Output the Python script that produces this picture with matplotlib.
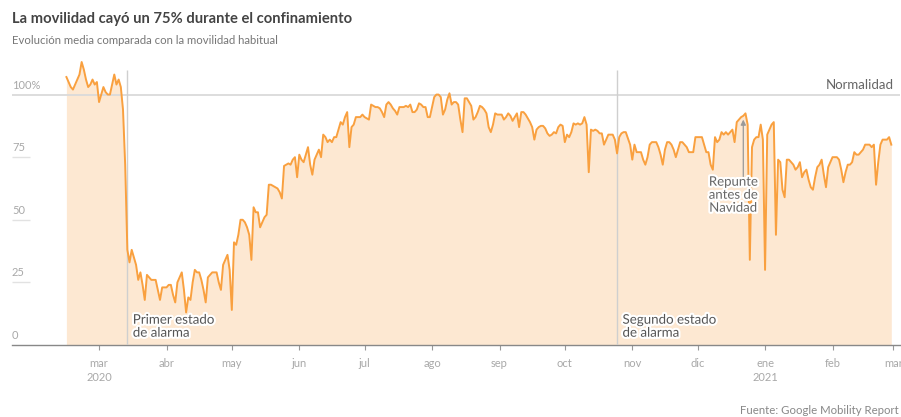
import matplotlib
matplotlib.use('Agg')
import matplotlib.pyplot as plt
import matplotlib.patheffects as pe
import numpy as np
import pandas as pd

plt.rcParams['font.family'] = ['Lato', 'DejaVu Sans']

# Movilidad media diaria (% sobre la habitual), mes a mes
feb_2020 = [107, 105, 103, 102, 104, 106, 108, 113, 110, 106, 103, 104, 106, 104, 105]  # desde el 15
mar_2020 = [97, 100, 103, 101, 100, 100, 104, 108, 104, 106, 103, 94, 72, 38, 33, 38, 35, 32, 26, 29,
            24, 18, 28, 27, 26, 26, 26, 22, 18, 23, 23]
abr_2020 = [23, 24, 24, 20, 17, 25, 27, 29, 22, 13, 19, 18, 25, 30, 29, 29, 26, 22, 17, 27,
            28, 29, 29, 29, 25, 22, 32, 34, 36, 30]
may_2020 = [14, 41, 40, 44, 50, 50, 49, 47, 44, 34, 55, 53, 53, 47, 49, 51, 52, 64, 64, 63.5,
            63, 62.5, 61, 58.5, 71.5, 72, 72.5, 72, 74, 75, 67]
jun_2020 = [76, 74, 73, 76, 79, 72, 68, 74, 76, 78, 75, 84, 83, 81, 82, 81, 83, 83, 86, 89,
            88, 91, 93, 79, 87, 88, 91, 91, 91, 92]
jul_2020 = [91, 90.5, 90, 96, 95.5, 95, 95, 94.5, 93, 91, 96, 97, 96, 94.5, 93.5, 92, 95, 95, 95, 95.5,
            95, 96, 93, 93, 94, 96.5, 96, 95, 95, 91, 91]
ago_2020 = [95, 99, 100, 100, 99, 92, 94, 98, 100.5, 96, 97, 97, 96, 90, 85, 98.5, 98.5, 97, 95.5, 90,
            91, 93, 95.5, 95, 94, 92.5, 87, 85, 88, 92.5, 92]
sep_2020 = [92, 92, 90, 91, 92.5, 91.5, 89.5, 91, 92.5, 87, 93, 93, 92, 90.5, 89, 87, 82, 86, 87, 87.5,
            87.5, 86.5, 84.5, 83.5, 84, 85, 84.5, 87, 88, 87.5]
oct_2020 = [81, 84, 83, 85, 88.5, 88, 88.5, 88, 88.5, 91, 88, 69, 86, 85.5, 86, 85.5, 84.5, 84.5, 80, 82,
            84, 84, 84, 82, 76.5, 83, 84.5, 85, 85, 82.5, 80]
nov_2020 = [74, 80, 77, 77, 77, 74, 72, 75, 80, 81, 81, 81, 79, 76, 72, 78, 81, 81, 80, 78,
            75, 78, 81, 81, 80, 79, 77, 77, 77, 83]
dic_2020 = [83, 83, 83, 80, 77, 77, 72, 70, 83, 81, 82, 85, 84, 85, 84, 85, 86, 81, 89, 90,
            91, 91.5, 92.5, 88, 34, 79, 82, 83, 83, 88, 82]
ene_2021 = [30, 84, 86, 88, 89, 44, 74, 73, 62, 59, 74, 74, 73, 72, 70, 71, 73, 67, 69, 70,
            66, 63, 62, 67, 71, 72, 74, 68, 63, 71, 73]
feb_2021 = [75, 75, 75, 74, 70, 65, 69, 72, 72, 73, 77, 76, 76, 77, 78, 80, 80, 80, 79, 80,
            64, 73, 80, 82, 82, 82, 83, 80]

movilidad = np.concatenate([feb_2020, mar_2020, abr_2020, may_2020, jun_2020, jul_2020, ago_2020,
                            sep_2020, oct_2020, nov_2020, dic_2020, ene_2021, feb_2021])
fechas = pd.date_range('2020-02-15', '2021-02-28', freq='D')
assert len(fechas) == len(movilidad)

y_ticks = [0, 25, 50, 75, 100]
y_labels = ['0', '25', '50', '75', '100%']
meses = pd.date_range('2020-03-01', '2021-03-01', freq='MS')
meses_labels = ['mar\n2020', 'abr', 'may', 'jun', 'jul', 'ago', 'sep', 'oct', 'nov', 'dic',
                'ene\n2021', 'feb', 'mar']

eventos = [pd.Timestamp('2020-03-14'), pd.Timestamp('2020-10-25')]
eventos_txt = ['Primer estado\nde alarma', 'Segundo estado\nde alarma']

LINE = '#F9A03F'
FILL = '#FDE8D2'
halo = [pe.withStroke(linewidth=3, foreground='white')]

fig = plt.figure(figsize=(9.01, 4.17), dpi=100)
ax = fig.add_axes([12 / 901, 72 / 417, 888 / 901, 288 / 417])

ax.fill_between(fechas, movilidad, 0, color=FILL, lw=0, zorder=1)
ax.axhline(100, color='#dadada', lw=1.3, zorder=2)
ax.vlines(eventos, 0, 110, color='#cfcfcf', lw=1, zorder=3)
ax.plot(fechas, movilidad, color=LINE, lw=1.4, zorder=4)

ax.set_xlim(pd.Timestamp('2020-01-21'), pd.Timestamp('2021-03-04'))
ax.set_ylim(0, 115)

# eje y: etiquetas sobre pequeñas líneas a la izquierda
ax.set_yticks([])
ytr = ax.get_yaxis_transform()
for v, lab in zip(y_ticks, y_labels):
    if v in (25, 50, 75):
        ax.hlines(v, 0, 0.02, transform=ytr, color='#e2e2e2', lw=1, zorder=2)
    ax.text(0, v + 1.6, lab, transform=ytr, ha='left', va='bottom', fontsize=8,
            color='#a8a8a8')

ax.set_xticks(meses)
ax.set_xticklabels(meses_labels, fontsize=8, color='#a8a8a8', linespacing=1.3)
ax.tick_params(axis='x', length=3.5, width=0.8, color='#999999', pad=6)

for s in ('top', 'right', 'left'):
    ax.spines[s].set_visible(False)
ax.spines['bottom'].set_color('#888888')
ax.spines['bottom'].set_linewidth(1)

for fecha, txt in zip(eventos, eventos_txt):
    ax.text(fecha + pd.Timedelta(days=2.5), 2.5, txt, ha='left', va='bottom', fontsize=9.6,
            color='#555555', linespacing=1.1, path_effects=halo, zorder=5)

ax.text(0.9935, 101.5, 'Normalidad', transform=ytr, ha='right', va='bottom', fontsize=9.5,
        color='#666666', zorder=5)

ax.annotate('', xy=(pd.Timestamp('2020-12-22'), 90), xytext=(pd.Timestamp('2020-12-22'), 67),
            arrowprops=dict(arrowstyle='-|>,head_length=0.3,head_width=0.15', color='#999999',
                            lw=0.9, shrinkA=0, shrinkB=0), zorder=5)
ax.text(pd.Timestamp('2020-12-17 12:00'), 60, 'Repunte\nantes de\nNavidad', ha='center',
        va='center', fontsize=9.5, color='#666666', linespacing=1.1, path_effects=halo, zorder=6)

fig.text(12 / 901, 1 - 19 / 417, 'La movilidad cayó un 75% durante el confinamiento',
         ha='left', va='center', fontsize=10.6, fontweight='bold', color='#444444')
fig.text(12 / 901, 1 - 41 / 417, 'Evolución media comparada con la movilidad habitual',
         ha='left', va='center', fontsize=8.2, color='#777777')
fig.text(899 / 901, 1 - 410 / 417, 'Fuente: Google Mobility Report', ha='right', va='center',
         fontsize=8.2, color='#888888')

fig.savefig('out.png', dpi=100, facecolor='white')
